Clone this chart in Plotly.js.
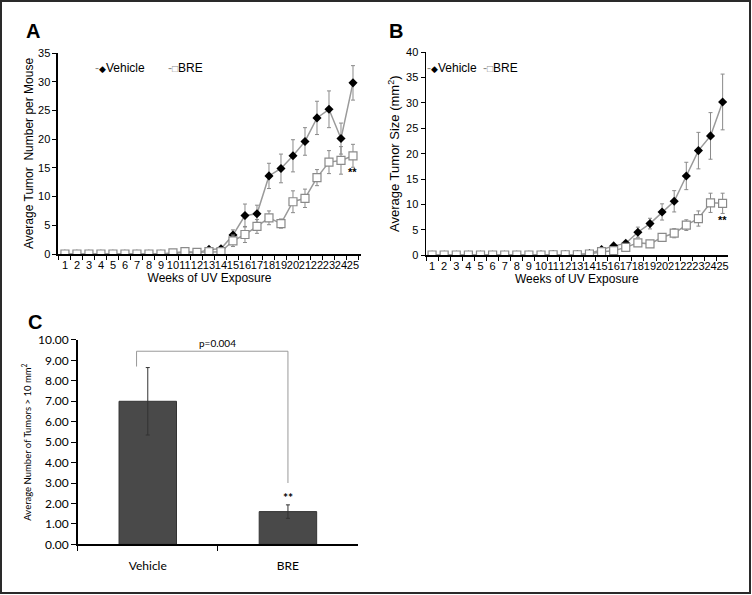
<!DOCTYPE html>
<html><head><meta charset="utf-8">
<script src="https://cdn.plot.ly/plotly-3.0.1.min.js"></script>
<style>html,body{margin:0;padding:0;background:#fff}#chart{width:752px;height:595px}</style>
</head><body><div id="chart"></div>
<script>
// ---- data ----
const weeks = [1,2,3,4,5,6,7,8,9,10,11,12,13,14,15,16,17,18,19,20,21,22,23,24,25];
const weekLabels = weeks.map(String);

// Panel A: average tumor number per mouse
const numVehicle    = [0,0,0,0,0,0,0,0,0,0.1,0.3,0.2,0.8,0.9,3.3,6.7,7.0,13.6,14.9,17.1,19.6,23.7,25.2,20.1,29.8];
const numVehicleErr = [0,0,0,0,0,0,0,0,0,0.1,0.2,0.2,0.3,0.3,0.9,2.0,1.5,2.2,2.5,2.8,2.4,2.9,3.2,2.7,3.0];
const numBRE        = [0,0,0,0,0,0,0,0,0,0.2,0.4,0.3,0.4,0.4,2.3,3.4,4.8,6.3,5.3,9.1,9.7,13.3,16.0,16.3,17.1];
const numBREErr     = [0,0,0,0,0,0,0,0,0,0.1,0.2,0.2,0.2,0.3,1.0,1.4,1.2,1.2,0.8,1.9,1.6,1.4,2.0,2.4,2.0];

// Panel B: average tumor size (mm2)
const sizeVehicle    = [0,0,0,0,0,0,0,0,0,0.05,0.1,0.1,0.1,0.3,1.1,1.8,2.3,4.5,6.2,8.5,10.6,15.6,20.6,23.5,30.2];
const sizeVehicleErr = [0,0,0,0,0,0,0,0,0,0,0,0,0,0.1,0.3,0.3,0.4,1.0,1.05,1.6,2.1,2.7,3.6,4.6,5.5];
const sizeBRE        = [0,0,0,0,0,0,0,0,0,0,0.05,0.05,0.05,0.2,0.65,0.85,1.5,2.4,2.2,3.5,4.3,5.9,7.2,10.3,10.2];
const sizeBREErr     = [0,0,0,0,0,0,0,0,0,0,0,0,0,0.1,0.2,0.3,0.4,0.4,0.4,0.6,0.9,1.05,1.5,1.9,2.0];

// Panel C: average number of tumors > 10 mm2
const groups     = ['Vehicle','BRE'];
const bigTumors  = [7.0, 1.6];
const bigTumErr  = [1.65, 0.33];

const seriesNames = ['Vehicle','BRE'];
const pValueText  = 'p=0.004';
const sigText     = '**';

// ---- styles ----
const FONT = 'Arial, "Liberation Sans", sans-serif';
const CFONT = 'Lato, "Open Sans", sans-serif';
const lineGray = '#9a9a9a';
const errGray = '#8a8a8a';
const last = weeks.length - 1;

function vehTrace(y, err, xa, ya){
  return {x: weekLabels, y: y, type:'scatter', mode:'lines+markers', name: seriesNames[0],
    xaxis: xa, yaxis: ya, showlegend:false,
    line:{color:lineGray, width:1.5},
    marker:{symbol:'diamond', size:7, color:'#000', line:{color:'#000', width:0}},
    error_y:{type:'data', array: err, visible:true, color: errGray, thickness:1, width:2}};
}
function breTrace(y, err, xa, ya){
  return {x: weekLabels, y: y, type:'scatter', mode:'lines+markers', name: seriesNames[1],
    xaxis: xa, yaxis: ya, showlegend:false,
    line:{color:lineGray, width:1.5},
    marker:{symbol:'square', size:8, color:'#fff', line:{color:'#8a8a8a', width:1.2}},
    error_y:{type:'data', array: err, visible:true, color: errGray, thickness:1, width:2}};
}

const traces = [
  vehTrace(numVehicle, numVehicleErr, 'x', 'y'),
  breTrace(numBRE, numBREErr, 'x', 'y'),
  vehTrace(sizeVehicle, sizeVehicleErr, 'x2', 'y2'),
  breTrace(sizeBRE, sizeBREErr, 'x2', 'y2'),
  {x: groups, y: bigTumors, type:'bar', xaxis:'x3', yaxis:'y3', showlegend:false,
   marker:{color:'#494949', line:{color:'#333', width:1}},
   error_y:{type:'data', array: bigTumErr, visible:true, color:'#333', thickness:1, width:2}}
];

function catX(domain, range, title){
  return {domain: domain, type:'category', range: range, tickson:'boundaries',
    tickmode:'linear', tick0:0, dtick:1, tickangle:0,
    ticks:'outside', ticklen:4, tickcolor:'#000', tickwidth:1,
    showline:true, linecolor:'#000', linewidth:1.5, showgrid:false, zeroline:false,
    tickfont:{family:FONT, size:11, color:'#000'},
    title:{text:title, font:{family:FONT, size:12, color:'#000'}, standoff:2}};
}
function linY(domain, range, dtick, title, tsize, standoff){
  return {domain: domain, range: range, dtick: dtick, tick0:0,
    ticks:'outside', ticklen:4, tickcolor:'#000', tickwidth:1,
    showline:true, linecolor:'#000', linewidth:1.5, showgrid:false, zeroline:false,
    tickfont:{family:FONT, size:11, color:'#000'},
    title:{text:title, font:{family:FONT, size:tsize, color:'#000'}, standoff:standoff}};
}

// legend entries drawn as text (marker glyph + label)
function legendText(glyph, glyphColor, glyphSize, label){
  return '<span style="color:#8a8a8a">-</span><span style="color:'+glyphColor+';font-size:'+glyphSize+'px">'+glyph+'</span>'+label;
}
function legendAnn(px, py, txt){
  return {text:txt, xref:'paper', yref:'paper', x:px/752, y:1-py/595, xanchor:'left', yanchor:'middle',
    showarrow:false, font:{family:FONT, size:12, color:'#000'}};
}
function panelLabel(t, px, py){
  return {text:'<b>'+t+'</b>', xref:'paper', yref:'paper', x:px/752, y:1-py/595, xanchor:'center', yanchor:'middle',
    showarrow:false, font:{family:FONT, size:20, color:'#000'}};
}

const layout = {
  width:752, height:595,
  margin:{l:0, r:0, t:0, b:0},
  paper_bgcolor:'#fff', plot_bgcolor:'#fff',
  font:{family:FONT, color:'#000'},
  showlegend:false,
  xaxis:  Object.assign(catX([0.0771,0.4801], [-0.58, 24.67], 'Weeks of UV Exposure'), {anchor:'y'}),
  yaxis:  Object.assign(linY([0.5731,0.9109], [0,35], 5, 'Average Tumor\u00a0 Number per Mouse', 12, 2), {anchor:'x'}),
  xaxis2: Object.assign(catX([0.5665,0.9677], [-0.5, 24.42], 'Weeks of UV Exposure'), {anchor:'y2'}),
  yaxis2: Object.assign(linY([0.5714,0.9121], [0,40], 5, 'Average Tumor Size (mm<sup>2</sup>)', 13, 3), {anchor:'x2'}),
  xaxis3: {domain:[0.1033,0.4761], type:'category', anchor:'y3', range:[-0.5,1.5], tickson:'boundaries',
    ticks:'outside', ticklen:5, tickcolor:'#000', showline:true, linecolor:'#000', linewidth:1.5,
    showgrid:false, zeroline:false, ticklabelstandoff:10,
    tickfont:{family:CFONT, size:12, color:'#000'}},
  yaxis3: {domain:[0.0852,0.4286], anchor:'x3', range:[0,10], dtick:1, tick0:0, tickformat:'.2f',
    ticks:'outside', ticklen:5, tickcolor:'#000', showline:true, linecolor:'#000', linewidth:1.5,
    showgrid:false, zeroline:false,
    tickfont:{family:CFONT, size:12, color:'#000'},
    title:{text:'Average Number of Tumors > 10 mm<sup>2</sup>', font:{family:CFONT, size:9.5, color:'#000'}, standoff:5}},
  bargap:0.59,
  annotations:[
    panelLabel('A', 33, 31),
    panelLabel('B', 396, 31),
    panelLabel('C', 35, 322),
    legendAnn(93, 68, legendText('\u25C6', '#000', 9, seriesNames[0])),
    legendAnn(166, 68, legendText('\u25A1', '#8a8a8a', 10, seriesNames[1])),
    legendAnn(425, 68, legendText('\u25C6', '#000', 9, seriesNames[0])),
    legendAnn(481, 68, legendText('\u25A1', '#8a8a8a', 10, seriesNames[1])),
    {text:'<b>'+sigText+'</b>', xref:'x', yref:'y', x:last, y:numBRE[last]-numBREErr[last]+0.6, yanchor:'top', xanchor:'center', showarrow:false, font:{family:FONT, size:11, color:'#000'}},
    {text:'<b>'+sigText+'</b>', xref:'x2', yref:'y2', x:last, y:sizeBRE[last]-sizeBREErr[last]+0.2, yanchor:'top', xanchor:'center', showarrow:false, font:{family:FONT, size:11, color:'#000'}},
    {text:pValueText, xref:'x3', yref:'y3', x:0.5, y:9.45, yanchor:'bottom', xanchor:'center', showarrow:false, font:{family:CFONT, size:10, color:'#000'}},
    {text:'<b>'+sigText+'</b>', xref:'x3', yref:'y3', x:1, y:bigTumors[1]+bigTumErr[1]-0.1, yanchor:'bottom', xanchor:'center', showarrow:false, font:{family:CFONT, size:12, color:'#000'}}
  ],
  shapes:[
    // significance bracket in panel C
    {type:'path', xref:'x3', yref:'y3', path:'M -0.08 8.7 L -0.08 9.45 L 1 9.45 L 1 3.0', line:{color:'#999', width:1}},
    // outer frame
    {type:'rect', xref:'paper', yref:'paper', x0:1/752, x1:750/752, y0:1-593/595, y1:1-1/595, line:{color:'#2a2a2a', width:2}}
  ]
};

Plotly.newPlot('chart', traces, layout, {displayModeBar:false, staticPlot:true});
</script>
</body></html>
